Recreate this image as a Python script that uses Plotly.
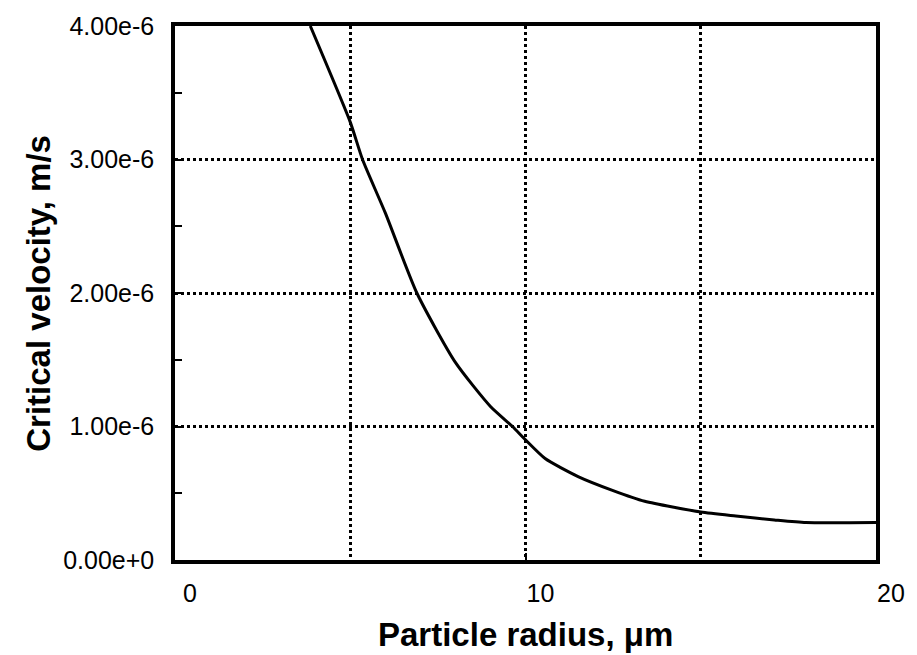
import plotly.graph_objects as go

# Data
radius_um = [3.86, 5.0, 5.35, 6.0, 6.9, 8.0, 9.0, 9.63, 10.0, 10.56, 11.5, 12.5, 13.4, 15.0, 16.0, 17.1, 18.0, 20.0]
velocity = [4.0e-6, 3.28e-6, 3.0e-6, 2.6e-6, 2.0e-6, 1.48e-6, 1.15e-6, 1.0e-6, 0.90e-6, 0.76e-6,
            0.625e-6, 0.52e-6, 0.44e-6, 0.36e-6, 0.33e-6, 0.30e-6, 0.28e-6, 0.28e-6]

x_tickvals = [0, 10, 20]
x_ticktext = ["0", "10", "20"]
y_tickvals = [0, 1e-6, 2e-6, 3e-6, 4e-6]
y_ticktext = ["0.00e+0", "1.00e-6", "2.00e-6", "3.00e-6", "4.00e-6"]

FONT = "Liberation Sans, Arial, sans-serif"

fig = go.Figure()
fig.add_trace(go.Scatter(x=radius_um, y=velocity, mode="lines",
                         line=dict(color="black", width=3, shape="spline", smoothing=0.6),
                         showlegend=False, hoverinfo="skip"))

W, H = 917, 655
L, R, T, B = 175, 32, 16, 95
pw, ph = W - L - R, H - T - B

grid = dict(showgrid=True, gridcolor="black", gridwidth=2.5, griddash="dot")

fig.update_layout(
    width=W, height=H,
    margin=dict(l=L, r=R, t=T, b=B),
    paper_bgcolor="white", plot_bgcolor="white",
    font=dict(family=FONT, color="black"),
    xaxis=dict(range=[0, 20], tickvals=x_tickvals, ticktext=x_ticktext,
               showline=True, linecolor="black", linewidth=3.5, mirror=True,
               ticks="inside", ticklen=7, tickwidth=2, tickcolor="black",
               **grid,
               tickfont=dict(size=25, family=FONT), ticklabelshift=15, ticklabelstandoff=8,
               minor=dict(dtick=5, showgrid=True, gridcolor="black", gridwidth=2.5, griddash="dot",
                          ticks=""),
               zeroline=False, fixedrange=True),
    yaxis=dict(range=[0, 4e-6], tickvals=y_tickvals, ticktext=y_ticktext,
               showline=True, linecolor="black", linewidth=3.5, mirror=True,
               ticks="inside", ticklen=7, tickwidth=2, tickcolor="black",
               **grid,
               tickfont=dict(size=25, family=FONT), ticklabelstandoff=12,
               minor=dict(dtick=0.5e-6, ticks="inside", ticklen=7, tickwidth=2, tickcolor="black",
                          showgrid=False),
               zeroline=False, fixedrange=True),
    annotations=[
        dict(text="<b>Critical velocity, m/s</b>", xref="paper", yref="paper",
             x=(36 - L) / pw, y=0.5, textangle=-90, showarrow=False,
             xanchor="center", yanchor="middle", font=dict(size=33, family=FONT)),
        dict(text="<b>Particle radius, μm</b>", xref="paper", yref="paper",
             x=(530 - L) / pw, y=(H - B - 657) / ph, showarrow=False,
             xanchor="center", yanchor="bottom", font=dict(size=33, family=FONT)),
    ],
)

fig.write_html("out.html", config={"displayModeBar": False},
               post_script="document.body.style.margin='0';document.body.style.overflow='hidden';")
